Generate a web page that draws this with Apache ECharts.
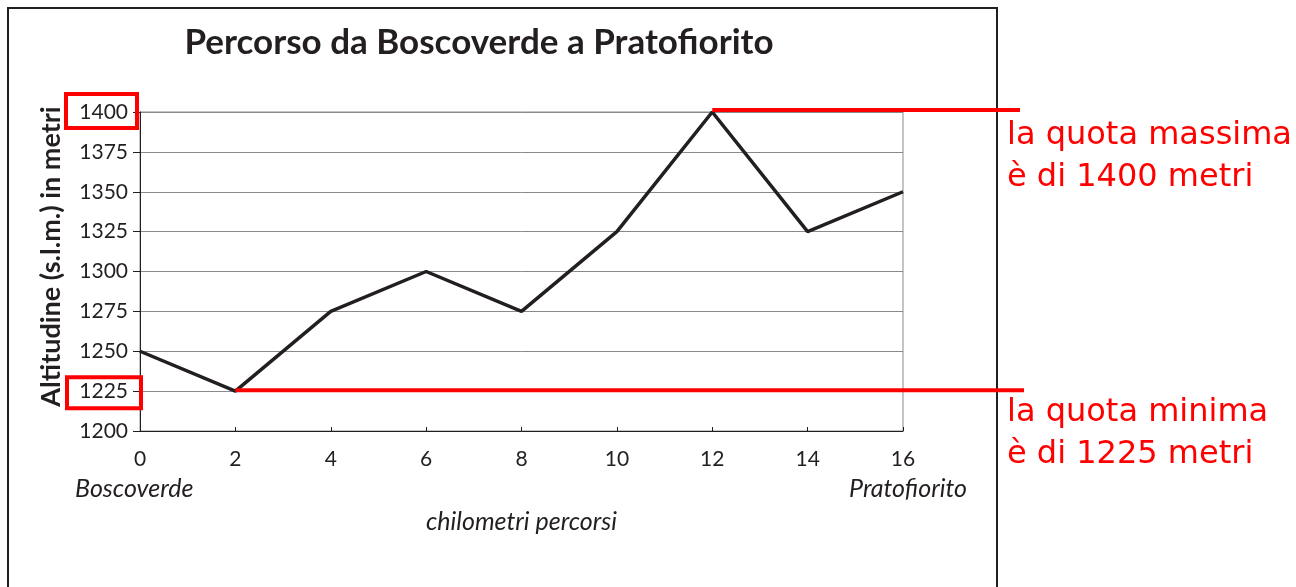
<!DOCTYPE html>
<html>
<head>
<meta charset="utf-8">
<script src="https://cdn.jsdelivr.net/npm/echarts@6/dist/echarts.min.js"></script>
<style>
  html, body { margin: 0; padding: 0; background: #fff; }
  #chart { width: 1296px; height: 587px; }
</style>
</head>
<body>
<div id="chart"></div>
<script>
// km percorsi e altitudine
const km = [0, 2, 4, 6, 8, 10, 12, 14, 16];
const altitudine = [1250, 1225, 1275, 1300, 1275, 1325, 1400, 1325, 1350];
const quotaMax = 1400, kmMax = 12;
const quotaMin = 1225, kmMin = 2;
const noteMax = ['la quota massima', 'è di 1400 metri'];
const noteMin = ['la quota minima', 'è di 1225 metri'];

const chart = echarts.init(document.getElementById('chart'));
const font = 'Lato, "Open Sans", sans-serif';

chart.setOption({
  animation: false,
  backgroundColor: '#fff',
  title: {
    text: 'Percorso da Boscoverde a Pratofiorito',
    left: 474, top: 20, textAlign: 'center',
    textStyle: { fontFamily: font, fontWeight: 'bold', fontSize: 35, color: '#231f20' }
  },
  grid: {
    left: 140, right: 393, top: 112, bottom: 156,
    show: true, borderColor: '#8a8a8a', borderWidth: 1
  },
  xAxis: {
    type: 'value', min: 0, max: 16, interval: 2,
    name: 'chilometri percorsi', nameLocation: 'middle', nameGap: 78,
    nameTextStyle: { fontFamily: font, fontStyle: 'italic', fontSize: 25, color: '#231f20' },
    axisLine: { lineStyle: { color: '#231f20', width: 1 } },
    axisTick: { inside: true, length: 4, lineStyle: { color: '#231f20' } },
    axisLabel: { margin: 18, fontFamily: font, fontSize: 21, color: '#231f20' },
    splitLine: { show: false }
  },
  yAxis: {
    type: 'value', min: 1200, max: 1400, interval: 25,
    name: 'Altitudine (s.l.m.) in metri', nameLocation: 'middle', nameGap: 75,
    nameTextStyle: { fontFamily: font, fontWeight: 'bold', fontSize: 27, color: '#231f20',
      padding: [0, 0, 0, 30] },
    axisLine: { show: true, lineStyle: { color: '#231f20', width: 1 } },
    axisTick: { show: true, length: 7, lineStyle: { color: '#231f20' } },
    axisLabel: { margin: 12, fontFamily: font, fontSize: 21, color: '#231f20',
      formatter: v => String(v) },
    splitLine: { lineStyle: { color: '#8a8a8a', width: 1 } }
  },
  series: [{
    type: 'line',
    data: km.map((k, i) => [k, altitudine[i]]),
    symbol: 'none',
    lineStyle: { color: '#231f20', width: 3.5 },
    z: 3
  }]
});

// annotazioni rosse, posizionate con le scale del grafico
const pMax = chart.convertToPixel({ gridIndex: 0 }, [kmMax, quotaMax]);
const pMin = chart.convertToPixel({ gridIndex: 0 }, [kmMin, quotaMin]);
const red = '#ff0000';
const noteFont = '"DejaVu Sans", Verdana, sans-serif';

chart.setOption({
  graphic: [
    // cornice
    { type: 'rect', shape: { x: 8, y: 8, width: 989, height: 600 },
      style: { fill: null, stroke: '#231f20', lineWidth: 2 }, silent: true },
    // linee di quota
    { type: 'line', shape: { x1: pMax[0], y1: pMax[1] - 2, x2: 1020, y2: pMax[1] - 2 },
      style: { stroke: red, lineWidth: 4 }, z: 10 },
    { type: 'line', shape: { x1: pMin[0], y1: pMin[1] - 1, x2: 1024, y2: pMin[1] - 1 },
      style: { stroke: red, lineWidth: 4 }, z: 10 },
    // riquadri sulle etichette
    { type: 'rect', shape: { x: 66, y: pMax[1] - 18, width: 71, height: 34 },
      style: { fill: null, stroke: red, lineWidth: 4 }, z: 10 },
    { type: 'rect', shape: { x: 67, y: pMin[1] - 14, width: 74, height: 31 },
      style: { fill: null, stroke: red, lineWidth: 4 }, z: 10 },
    // località
    { type: 'text', left: 75, top: 476,
      style: { text: 'Boscoverde', font: 'italic 25px ' + font, fill: '#231f20' } },
    { type: 'text', right: 1296 - 967, top: 476,
      style: { text: 'Pratofiorito', font: 'italic 25px ' + font, fill: '#231f20', align: 'right' } },
    // note
    { type: 'text', left: 1007, top: pMax[1] + 3,
      style: { text: noteMax.join('\n'), font: '32px ' + noteFont, fill: red, lineHeight: 42 } },
    { type: 'text', left: 1007, top: pMin[1] + 1,
      style: { text: noteMin.join('\n'), font: '32px ' + noteFont, fill: red, lineHeight: 42 } }
  ]
});
</script>
</body>
</html>
